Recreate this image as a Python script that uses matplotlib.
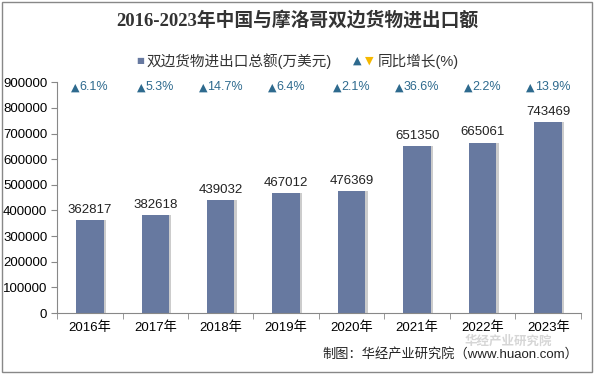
import matplotlib
matplotlib.use('Agg')
import matplotlib.pyplot as plt
import numpy as np

plt.rcParams['font.family'] = ['Liberation Sans', 'Noto Sans CJK SC', 'DejaVu Sans']

years = ['2016年', '2017年', '2018年', '2019年', '2020年', '2021年', '2022年', '2023年']
trade = [362817, 382618, 439032, 467012, 476369, 651350, 665061, 743469]
growth = [6.1, 5.3, 14.7, 6.4, 2.1, 36.6, 2.2, 13.9]

bar_color = '#6779A0'
up_color = '#2E6A8E'

fig = plt.figure(figsize=(5.94, 3.74), dpi=100)
ax = fig.add_axes([0.096, 0.163, 0.882, 0.617])

x = np.arange(len(years))
# shadow bars
ax.bar(x + 0.035, trade, width=0.42, color='#CCCCCC', zorder=1)
ax.bar(x, trade, width=0.42, color=bar_color, zorder=2)

for i, v in enumerate(trade):
    ax.text(i, v + 16000, str(v), ha='center', va='bottom', fontsize=9.5,
            color='#222222')
    # growth label: bigger triangle + percentage, centred as a pair
    pct = f'{growth[i]}%'
    w = sum(0.278 if c == '.' else 0.889 if c == '%' else 0.556 for c in pct) * 9
    tri = 0.77 * 8
    left = -(w + tri) / 2
    ax.annotate('▲', (i, 880000), xytext=(left, 0), textcoords='offset points',
                ha='left', va='center', fontsize=8, color=up_color, family=['DejaVu Sans'])
    ax.annotate(pct, (i, 880000), xytext=(left + tri, 0), textcoords='offset points',
                ha='left', va='center', fontsize=9, color=up_color)

ax.set_xlim(-0.5, len(years) - 0.5)
ax.set_ylim(0, 900000)
ax.set_yticks(np.arange(0, 900001, 100000))
ax.set_yticklabels([str(t) for t in range(0, 900001, 100000)], fontsize=9.5)
ax.set_xticks(x)
ax.set_xticklabels(years, fontsize=9.5)
ax.set_xticks(np.arange(-0.5, len(years)), minor=True)
ax.tick_params(axis='x', which='major', length=0, pad=6)
ax.tick_params(axis='x', which='minor', length=4, color='#888888')
ax.tick_params(axis='y', length=4, color='#888888', pad=3)
for s in ['top', 'right']:
    ax.spines[s].set_visible(False)
ax.spines['left'].set_color('#888888')
ax.spines['bottom'].set_color('#888888')

fig.text(0.5, 0.945, '2016-2023年中国与摩洛哥双边货物进出口额', ha='center', va='center',
         fontsize=13.5, fontweight='bold', color='#333333',
         family=['Liberation Serif', 'Noto Sans CJK SC'])

# legend
ly = 0.837
fig.text(0.236, ly, '■', ha='center', va='center', fontsize=6, color=bar_color, family=['DejaVu Sans'])
fig.text(0.247, ly, '双边货物进出口总额(万美元)', ha='left', va='center', fontsize=10.5, color='#333333')
fig.text(0.601, ly, '▲', ha='center', va='center', fontsize=8, color=up_color, family=['DejaVu Sans'])
fig.text(0.622, ly, '▼', ha='center', va='center', fontsize=8, color='#F5B800', family=['DejaVu Sans'])
fig.text(0.636, ly, '同比增长(%)', ha='left', va='center', fontsize=10.5, color='#333333')

# watermark and source
fig.text(0.855, 0.087, '华经产业研究院', ha='center', va='center', fontsize=9,
         color='#BBBBBB', alpha=0.6, fontweight='bold')
fig.text(0.973, 0.052, '制图：华经产业研究院（www.huaon.com）', ha='right', va='center',
         fontsize=9.5, color='#222222')

fig.add_artist(plt.Rectangle((0.003, 0.005), 0.994, 0.99, transform=fig.transFigure,
                             fill=False, edgecolor='#888888', linewidth=1))

fig.savefig('out.png', dpi=100)
